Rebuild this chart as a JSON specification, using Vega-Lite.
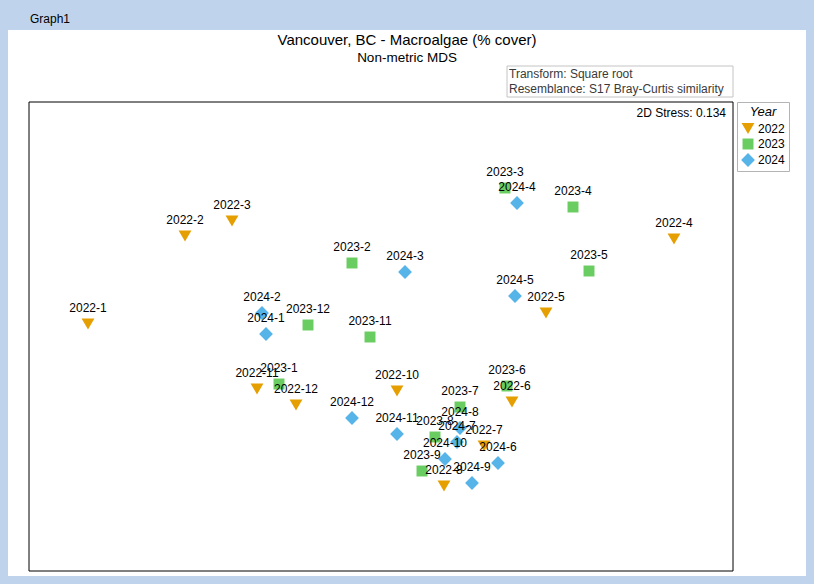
{
  "$schema": "https://vega.github.io/schema/vega-lite/v6.json",
  "width": 704,
  "height": 469,
  "autosize": {"type": "none"},
  "padding": {"left": 29, "top": 102, "right": 81, "bottom": 13},
  "background": "#bfd4ec",
  "config": {
    "view": {"stroke": null},
    "font": "Liberation Sans"
  },
  "data": {"values": [{}]},
  "datasets": {
    "samples": [
      {"Sample": "2022-1", "Year": "2022", "MDS1": 59, "MDS2": 247},
      {"Sample": "2022-2", "Year": "2022", "MDS1": 156, "MDS2": 335},
      {"Sample": "2022-3", "Year": "2022", "MDS1": 203, "MDS2": 350},
      {"Sample": "2022-4", "Year": "2022", "MDS1": 645, "MDS2": 332},
      {"Sample": "2022-5", "Year": "2022", "MDS1": 517, "MDS2": 258},
      {"Sample": "2022-6", "Year": "2022", "MDS1": 483, "MDS2": 169},
      {"Sample": "2022-7", "Year": "2022", "MDS1": 455, "MDS2": 125},
      {"Sample": "2022-8", "Year": "2022", "MDS1": 415, "MDS2": 85},
      {"Sample": "2022-10", "Year": "2022", "MDS1": 368, "MDS2": 180},
      {"Sample": "2022-11", "Year": "2022", "MDS1": 228, "MDS2": 182},
      {"Sample": "2022-12", "Year": "2022", "MDS1": 267, "MDS2": 166},
      {"Sample": "2023-1", "Year": "2023", "MDS1": 250, "MDS2": 187},
      {"Sample": "2023-2", "Year": "2023", "MDS1": 323, "MDS2": 308},
      {"Sample": "2023-3", "Year": "2023", "MDS1": 476, "MDS2": 383},
      {"Sample": "2023-4", "Year": "2023", "MDS1": 544, "MDS2": 364},
      {"Sample": "2023-5", "Year": "2023", "MDS1": 560, "MDS2": 300},
      {"Sample": "2023-6", "Year": "2023", "MDS1": 478, "MDS2": 185},
      {"Sample": "2023-7", "Year": "2023", "MDS1": 431, "MDS2": 164},
      {"Sample": "2023-8", "Year": "2023", "MDS1": 406, "MDS2": 134},
      {"Sample": "2023-9", "Year": "2023", "MDS1": 393, "MDS2": 100},
      {"Sample": "2023-11", "Year": "2023", "MDS1": 341, "MDS2": 234},
      {"Sample": "2023-12", "Year": "2023", "MDS1": 279, "MDS2": 246},
      {"Sample": "2024-1", "Year": "2024", "MDS1": 237, "MDS2": 237},
      {"Sample": "2024-2", "Year": "2024", "MDS1": 233, "MDS2": 258},
      {"Sample": "2024-3", "Year": "2024", "MDS1": 376, "MDS2": 299},
      {"Sample": "2024-4", "Year": "2024", "MDS1": 488, "MDS2": 368},
      {"Sample": "2024-5", "Year": "2024", "MDS1": 486, "MDS2": 275},
      {"Sample": "2024-6", "Year": "2024", "MDS1": 469, "MDS2": 108},
      {"Sample": "2024-7", "Year": "2024", "MDS1": 428, "MDS2": 129},
      {"Sample": "2024-8", "Year": "2024", "MDS1": 431, "MDS2": 143},
      {"Sample": "2024-9", "Year": "2024", "MDS1": 443, "MDS2": 88},
      {"Sample": "2024-10", "Year": "2024", "MDS1": 416, "MDS2": 112},
      {"Sample": "2024-11", "Year": "2024", "MDS1": 368, "MDS2": 137},
      {"Sample": "2024-12", "Year": "2024", "MDS1": 323, "MDS2": 153}
    ]
  },
  "layer": [
    {
      "mark": {"type": "rect", "fill": "#ffffff"},
      "encoding": {
        "x": {"datum": -21, "type": "quantitative", "scale": {"domain": [0, 704], "nice": false, "zero": false}, "axis": null},
        "x2": {"datum": 777},
        "y": {"datum": 541, "type": "quantitative", "scale": {"domain": [0, 469], "nice": false, "zero": false}, "axis": null},
        "y2": {"datum": -5}
      }
    },
    {
      "mark": {"type": "text", "text": "Graph1", "align": "left", "baseline": "middle", "fontSize": 12, "color": "#000000"},
      "encoding": {
        "x": {"datum": 1, "type": "quantitative"},
        "y": {"datum": 552, "type": "quantitative"}
      }
    },
    {
      "mark": {"type": "text", "text": "Vancouver, BC - Macroalgae (% cover)", "align": "center", "baseline": "middle", "fontSize": 15, "color": "#000000"},
      "encoding": {
        "x": {"datum": 378, "type": "quantitative"},
        "y": {"datum": 531, "type": "quantitative"}
      }
    },
    {
      "mark": {"type": "text", "text": "Non-metric MDS", "align": "center", "baseline": "middle", "fontSize": 13.5, "color": "#000000"},
      "encoding": {
        "x": {"datum": 378, "type": "quantitative"},
        "y": {"datum": 513, "type": "quantitative"}
      }
    },
    {
      "mark": {"type": "rect", "fill": "#ffffff", "fillOpacity": 0, "stroke": "#000000", "strokeWidth": 1},
      "encoding": {
        "x": {"datum": 0, "type": "quantitative"},
        "x2": {"datum": 704},
        "y": {"datum": 0, "type": "quantitative"},
        "y2": {"datum": 469}
      }
    },
    {
      "mark": {"type": "rect", "fill": "#ffffff", "stroke": "#c4c4c4", "strokeWidth": 1},
      "encoding": {
        "x": {"datum": 478, "type": "quantitative"},
        "x2": {"datum": 704},
        "y": {"datum": 505, "type": "quantitative"},
        "y2": {"datum": 474}
      }
    },
    {
      "mark": {"type": "text", "text": "Transform: Square root", "align": "left", "baseline": "middle", "fontSize": 12, "color": "#3a3a3a"},
      "encoding": {
        "x": {"datum": 480, "type": "quantitative"},
        "y": {"datum": 497, "type": "quantitative"}
      }
    },
    {
      "mark": {"type": "text", "text": "Resemblance: S17 Bray-Curtis similarity", "align": "left", "baseline": "middle", "fontSize": 12, "color": "#3a3a3a"},
      "encoding": {
        "x": {"datum": 480, "type": "quantitative"},
        "y": {"datum": 482, "type": "quantitative"}
      }
    },
    {
      "mark": {"type": "text", "text": "2D Stress: 0.134", "align": "right", "baseline": "middle", "fontSize": 12, "color": "#000000"},
      "encoding": {
        "x": {"datum": 697, "type": "quantitative"},
        "y": {"datum": 458, "type": "quantitative"}
      }
    },
    {
      "data": {"name": "samples"},
      "mark": {"type": "point", "filled": true, "opacity": 1, "strokeWidth": 0},
      "encoding": {
        "x": {"field": "MDS1", "type": "quantitative"},
        "y": {"field": "MDS2", "type": "quantitative"},
        "color": {
          "field": "Year", "type": "nominal", "title": "Year",
          "scale": {"domain": ["2022", "2023", "2024"], "range": ["#e69f00", "#6acd62", "#56b4e9"]},
          "legend": {
            "orient": "right", "offset": 4, "padding": 4,
            "strokeColor": "#b4b4b4",
            "titleFontStyle": "italic", "titleFontWeight": "normal", "titleFontSize": 13,
            "titleAnchor": "middle", "titlePadding": 3, "titleColor": "#000000",
            "labelFontSize": 12, "labelColor": "#000000", "labelOffset": 3,
            "rowPadding": 3, "symbolStrokeWidth": 0
          }
        },
        "shape": {
          "field": "Year", "type": "nominal", "title": "Year",
          "scale": {"domain": ["2022", "2023", "2024"], "range": ["triangle-down", "square", "diamond"]}
        },
        "size": {
          "field": "Year", "type": "nominal", "title": "Year",
          "scale": {"type": "ordinal", "domain": ["2022", "2023", "2024"], "range": [165, 120, 190]}
        }
      }
    },
    {
      "data": {"name": "samples"},
      "mark": {"type": "text", "align": "center", "baseline": "middle", "dy": -16, "fontSize": 12, "color": "#000000"},
      "encoding": {
        "x": {"field": "MDS1", "type": "quantitative"},
        "y": {"field": "MDS2", "type": "quantitative"},
        "text": {"field": "Sample", "type": "nominal"}
      }
    }
  ]
}
